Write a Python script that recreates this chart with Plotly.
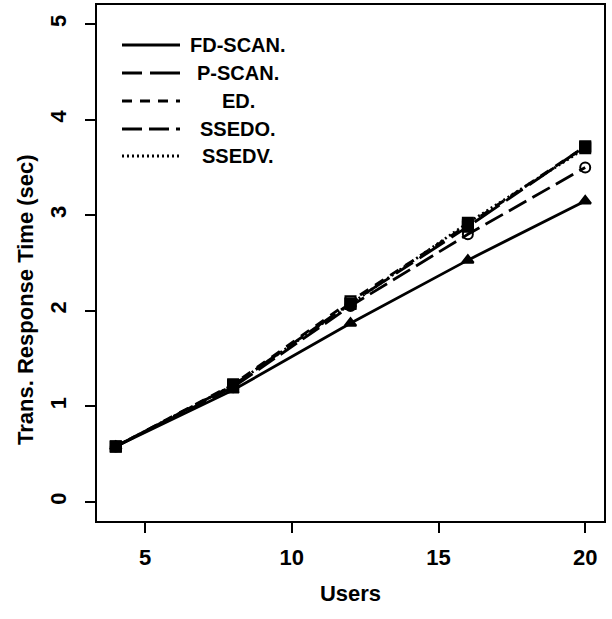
import plotly.graph_objects as go

users = [4, 8, 12, 16, 20]
series_names = ["FD-SCAN.", "P-SCAN.", "ED.", "SSEDO.", "SSEDV."]
fd_scan = [0.58, 1.17, 1.87, 2.53, 3.15]
p_scan = [0.58, 1.22, 2.08, 2.88, 3.72]
ed = [0.58, 1.23, 2.10, 2.90, 3.72]
ssedo = [0.58, 1.20, 2.05, 2.80, 3.50]
ssedv = [0.58, 1.22, 2.07, 2.92, 3.70]
x_ticks = [5, 10, 15, 20]
y_ticks = [0, 1, 2, 3, 4, 5]
x_title = "Users"
y_title = "Trans. Response Time (sec)"

series_values = [fd_scan, p_scan, ed, ssedo, ssedv]
dashes = ["solid", "20px,8px,30px,8px", "10px,8px", "20px,7px", "2px,3px"]
symbols = ["triangle-up", "square", "square-open", "circle-open", "square"]

FONT = "Liberation Sans, Arial, sans-serif"
W, H = 612, 619
ML, MR, MT, MB = 97, 8, 5, 98

fig = go.Figure()
for name, vals, dash, sym in zip(series_names, series_values, dashes, symbols):
    fig.add_trace(go.Scatter(
        x=users, y=vals, mode="lines+markers", name=name,
        line=dict(color="black", width=2.8, dash=dash),
        marker=dict(symbol=sym, size=10, color="black",
                    line=dict(color="black", width=2)),
        showlegend=False,
    ))

pw = W - ML - MR
ph = H - MT - MB

# custom legend (line sample + centred text), like the original
rows_px = [45, 73, 101, 129, 156]
for name, dash, py in zip(series_names, dashes, rows_px):
    yp = (H - MB - py) / ph
    fig.add_shape(type="line", xref="paper", yref="paper",
                  x0=(122 - ML) / pw, x1=(180 - ML) / pw, y0=yp, y1=yp,
                  line=dict(color="black", width=2.8, dash=dash))
    fig.add_annotation(xref="paper", yref="paper", x=(238 - ML) / pw, y=yp,
                       text=name, showarrow=False, xanchor="center",
                       yanchor="middle",
                       font=dict(family=FONT, size=20, color="black",
                                 weight="bold"))

axis_font = dict(family=FONT, size=22, color="black", weight="bold")

# y-axis title placed as in the original (slightly below centre)
fig.add_annotation(xref="paper", yref="paper", x=(25 - ML) / pw,
                   y=(H - MB - 300) / ph, text=y_title, textangle=-90,
                   showarrow=False, xanchor="center", yanchor="middle",
                   font=axis_font)

fig.update_layout(
    width=W, height=H,
    margin=dict(l=ML, r=MR, t=MT, b=MB),
    paper_bgcolor="white", plot_bgcolor="white",
    xaxis=dict(range=[3.36, 20.64], tickvals=x_ticks, ticks="outside",
               ticklen=10, tickwidth=2, tickcolor="black",
               showline=True, linecolor="black", linewidth=2, mirror=True,
               showgrid=False, zeroline=False, tickfont=axis_font,
               automargin=False, ticklabelstandoff=6,
               title=dict(text=x_title, font=axis_font, standoff=16)),
    yaxis=dict(range=[-0.2, 5.2], tickvals=y_ticks, ticks="outside",
               ticklen=10, tickwidth=2, tickcolor="black", tickangle=-90,
               showline=True, linecolor="black", linewidth=2, mirror=True,
               showgrid=False, zeroline=False, tickfont=axis_font,
               automargin=False, ticklabelstandoff=10),
)

fig.write_html("out.html", config={"displayModeBar": False},
               post_script="document.body.style.margin='0';"
                           "document.body.style.overflow='hidden';")
